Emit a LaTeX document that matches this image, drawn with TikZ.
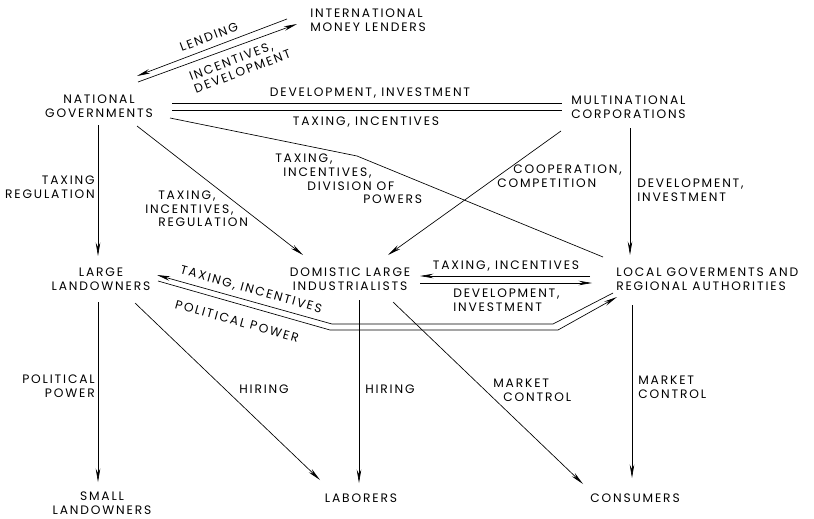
\documentclass[tikz,border=0pt]{standalone}
\usepackage{fontspec}
\setmainfont{Poppins}[LetterSpace=15]
\usetikzlibrary{arrows.meta,calc}
\newcommand{\lettering}{\fontsize{9.2}{10.2}\selectfont}
\tikzset{
  actor/.style={align=center,font=\lettering,inner sep=0pt},
  tag/.style={align=left,font=\lettering,inner sep=0pt},
  link/.style={line width=0.5pt},
  flow/.style={->,>={Stealth[length=10pt,width=3.4pt]},line width=0.5pt}
}

\begin{document}
\begin{tikzpicture}[x=0.75pt,y=-0.75pt]
  \useasboundingbox (0,0) rectangle (814,518);
  % actors
  \node[actor,align=left,anchor=west] (lenders) at (310,20) {INTERNATIONAL\\MONEY LENDERS};
  \node[actor] (natgov) at (99,106) {NATIONAL\\GOVERNMENTS};
  \node[actor,align=left,anchor=west] (multi) at (571,107) {MULTINATIONAL\\CORPORATIONS};
  \node[actor] (landown) at (101,279) {LARGE\\LANDOWNERS};
  \node[actor] (indust) at (350,279) {DOMISTIC LARGE\\INDUSTRIALISTS};
  \node[actor,align=left,anchor=west] (localgov) at (616,279) {LOCAL GOVERMENTS AND\\REGIONAL AUTHORITIES};
  \node[actor] (small) at (102,503) {SMALL\\LANDOWNERS};
  \node[actor] (labor) at (361,498) {LABORERS};
  \node[actor] (consumer) at (635,498) {CONSUMERS};
  % bends
  \coordinate (ngbend) at (357,156);
  \coordinate (upbendR) at (553,324);
  \coordinate (upbendL) at (332,324);
  \coordinate (lobendL) at (330,330);
  \coordinate (lobendR) at (558,330);
  % connectors
  \draw[flow] ($(lenders.west)+(-23,-1)$) -- ($(natgov)+(38,-30)$);
  \draw[flow] ($(natgov)+(39,-24)$) -- ($(lenders.west)+(-13,4)$);
  \draw[link] ($(natgov)+(73,-3)$) -- ($(multi.west)+(-9,-4)$);
  \draw[link] ($(natgov)+(73,4)$) -- ($(multi.west)+(-9,3)$);
  \draw[flow] ($(natgov)+(-1,19)$) -- ($(landown)+(-3,-23)$);
  \draw[flow] ($(natgov)+(38,20)$) -- ($(indust)+(-47,-24)$);
  \draw[link] ($(natgov)+(71,12)$) -- (ngbend) -- ($(localgov.west)+(-13,-22)$);
  \draw[flow] ($(multi.west)+(-10,24)$) -- ($(indust)+(38,-24)$);
  \draw[flow] ($(multi.west)+(59,21)$) -- ($(localgov.west)+(14,-24)$);
  \draw[flow] ($(localgov.west)+(-26,-3)$) -- ($(indust)+(70,-3)$);
  \draw[flow] ($(indust)+(70,4)$) -- ($(localgov.west)+(-24,4)$);
  \draw[flow] ($(localgov.west)+(-3,14)$) -- (upbendR) -- (upbendL) -- ($(landown)+(56,-4)$);
  \draw[flow] ($(landown)+(57,2)$) -- (lobendL) -- (lobendR) -- ($(localgov.west)+(1,18)$);
  \draw[flow] ($(landown)+(-3,23)$) -- ($(small)+(-4,-21)$);
  \draw[flow] ($(landown)+(34,24)$) -- ($(labor)+(-41,-18)$);
  \draw[flow] ($(indust)+(9,21)$) -- ($(labor)+(-2,-15)$);
  \draw[flow] ($(indust)+(43,23)$) -- ($(consumer)+(-52,-14)$);
  \draw[flow] ($(localgov.west)+(16,26)$) -- ($(consumer)+(-3,-20)$);
  % labels
  \node[tag,rotate=20.8] (lbllend) at (209,37) {LENDING};
  \node[tag,rotate=20.8] (lblincdev) at (240,65) {INCENTIVES,\\DEVELOPMENT};
  \node[tag] (lbldevtop) at (370,93) {DEVELOPMENT, INVESTMENT};
  \node[tag] (lbltaxtop) at (366,122) {TAXING, INCENTIVES};
  \node[tag,align=right,anchor=east] (lbltaxreg) at (95,187) {TAXING\\REGULATION};
  \node[tag,anchor=west] (lbltaxind) at (145,209) {\hspace*{9.75pt}TAXING,\\INCENTIVES,\\\hspace*{9.75pt}REGULATION};
  \node[tag,anchor=west] (lbltaxloc) at (275,179) {TAXING,\\\hspace*{6pt}INCENTIVES,\\\hspace*{24pt}DIVISION OF\\\hspace*{66pt}POWERS};
  \node[tag,anchor=west] (lblcoop) at (497,176) {\hspace*{12pt}COOPERATION,\\COMPETITION};
  \node[tag,anchor=west] (lbldevloc) at (637,190) {DEVELOPMENT,\\INVESTMENT};
  \node[tag] (lbltaxmid) at (506,266) {TAXING, INCENTIVES};
  \node[tag,anchor=west] (lbldevmid) at (453,300) {DEVELOPMENT,\\INVESTMENT};
  \node[tag,rotate=-15.6] (lbltaxland) at (251,290) {TAXING, INCENTIVES};
  \node[tag,rotate=-15.6] (lblpolloc) at (237,321) {POLITICAL POWER};
  \node[tag,align=right,anchor=east] (lblpolsmall) at (95,386) {POLITICAL\\POWER};
  \node[tag] (lblhirland) at (264,389) {HIRING};
  \node[tag,anchor=west] (lblhirind) at (365,389) {HIRING};
  \node[tag,anchor=west] (lblmktind) at (493,390) {MARKET\\\hspace*{7.5pt}CONTROL};
  \node[tag,anchor=west] (lblmktloc) at (638,387) {MARKET\\CONTROL};
\end{tikzpicture}
\end{document}
